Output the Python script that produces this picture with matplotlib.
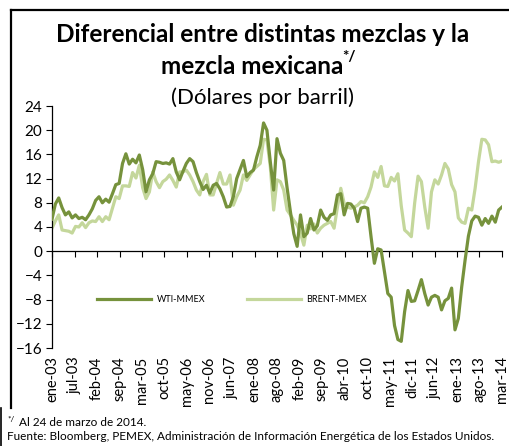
import numpy as np
import matplotlib
matplotlib.use('Agg')
import matplotlib.pyplot as plt

plt.rcParams['font.family'] = ['Lato', 'DejaVu Sans']

# monthly series, ene-03 .. mar-14 (dollars per barrel)
wti_mmex = [
    5.3, 7.8, 8.8, 7.2, 6.0, 6.5, 5.5, 6.0, 5.4, 5.6,
    5.2, 6.0, 7.0, 8.4, 9.0, 8.0, 8.6, 8.1, 9.5, 11.0,
    11.2, 14.5, 16.1, 14.4, 15.2, 14.6, 15.9, 13.5, 9.8, 11.8,
    12.8, 14.8, 14.7, 14.5, 14.6, 14.4, 15.3, 13.1, 11.8, 13.2,
    14.5, 15.3, 14.8, 13.0, 11.5, 10.2, 10.9, 9.6, 10.9, 11.2,
    10.3, 9.0, 7.3, 7.4, 9.0, 12.0, 13.5, 15.0, 12.3, 13.0,
    13.4, 15.6, 17.5, 21.2, 20.0, 14.8, 10.1, 18.6, 16.2, 15.0,
    10.5, 6.5, 2.9, 0.8, 6.0, 2.4, 3.0, 5.4, 3.5, 4.2,
    6.8, 5.6, 5.1, 6.0, 6.2, 9.3, 9.5, 6.0, 7.9, 7.8,
    7.1, 4.9, 7.1, 7.3, 7.1, 2.4, -2.0, 0.4, 0.2, -3.4,
    -7.0, -7.6, -12.3, -14.6, -14.9, -10.0, -6.5, -8.3, -8.2, -6.5,
    -4.7, -7.0, -8.9, -7.6, -7.3, -7.6, -9.7, -8.2, -7.8, -6.1,
    -13.0, -11.1, -5.9, -1.5, 2.5, 5.0, 5.8, 5.6, 4.3, 5.4,
    4.6, 5.8, 4.8, 6.8, 7.3,
]
brent_mmex = [
    3.8, 5.0, 6.0, 3.5, 3.4, 3.3, 3.0, 4.1, 4.0, 4.7,
    3.9, 4.7, 5.0, 4.9, 5.7, 4.9, 5.7, 5.2, 7.1, 9.0,
    8.7, 10.8, 10.8, 10.7, 13.0, 12.1, 14.2, 10.5, 8.7, 9.8,
    13.1, 11.5, 10.5, 11.5, 11.9, 12.6, 11.7, 10.6, 13.1, 13.1,
    13.4, 12.6, 11.5, 10.1, 9.3, 11.5, 12.7, 9.3, 9.3, 11.2,
    13.0, 11.1, 11.1, 12.6, 7.6, 9.0, 10.1, 12.6, 11.7, 12.6,
    13.5, 14.0, 14.5, 18.5, 18.4, 14.0, 6.8, 11.8, 11.5, 10.1,
    6.8, 6.0, 5.1, 4.3, 2.9, 1.0, 4.3, 3.7, 4.5, 3.0,
    3.8, 4.3, 4.6, 4.9, 3.8, 7.3, 10.4, 7.9, 7.3, 7.1,
    7.3, 7.6, 8.2, 8.0, 9.0, 10.6, 13.1, 12.2, 14.0, 10.8,
    10.7, 12.2, 11.6, 12.8, 7.5, 3.5, 3.0, 2.4, 8.0, 12.4,
    11.5, 7.3, 3.8, 9.8, 11.8, 11.1, 12.6, 14.5, 13.6, 11.0,
    9.8, 5.5, 4.8, 4.6, 7.1, 6.8, 10.4, 14.8, 18.5, 18.4,
    17.6, 14.8, 14.9, 14.7, 14.9,
]
tick_labels = ['ene-03', 'jul-03', 'feb-04', 'sep-04', 'mar-05', 'oct-05',
               'may-06', 'nov-06', 'jun-07', 'ene-08', 'ago-08', 'feb-09',
               'sep-09', 'abr-10', 'oct-10', 'may-11', 'dic-11', 'jun-12',
               'ene-13', 'ago-13', 'mar-14']
yticks = list(range(-16, 25, 4))

dark = '#76923C'
light = '#C4D79B'

fig = plt.figure(figsize=(5.10, 4.46), dpi=100)
ax = fig.add_axes([52 / 510, 1 - 348 / 446, (502 - 52) / 510, (348 - 106) / 446])

x = np.arange(len(wti_mmex))
ax.plot(x, wti_mmex, color=dark, lw=2.3, label='WTI-MMEX', zorder=3)
ax.plot(x, brent_mmex, color=light, lw=2.3, label='BRENT-MMEX', zorder=2)

n = len(wti_mmex) - 1
tpos = np.linspace(0, n, len(tick_labels))
ax.set_xlim(0, n)
ax.set_ylim(-16, 24)
ax.set_yticks(yticks)
ax.set_xticks(tpos)
ax.tick_params(axis='y', direction='out', length=4, width=0.8, labelsize=11, pad=3)
ax.tick_params(axis='x', direction='out', length=4, width=0.8, labelbottom=False)
ax.spines['bottom'].set_position(('data', 0))
ax.spines['top'].set_visible(False)
ax.spines['right'].set_visible(False)
for s in ('left', 'bottom'):
    ax.spines[s].set_linewidth(0.9)

sec = ax.secondary_xaxis('bottom')
sec.set_xticks(tpos, tick_labels, rotation=90)
sec.tick_params(length=0, labelsize=10.5, pad=6)
sec.spines['bottom'].set_visible(False)

ax.legend(loc='center', bbox_to_anchor=(0.40, 0.2), ncol=2, frameon=False,
          fontsize=6.5, handlelength=6.0, columnspacing=4.6, handletextpad=0.6)

# titles
fig.text(0.514, 1 - 35 / 446, 'Diferencial entre distintas mezclas y la',
         ha='center', va='center', fontsize=17.5, fontweight='bold')
t2 = fig.text(0.494, 1 - 66 / 446, 'mezcla mexicana', ha='center', va='center',
              fontsize=17.5, fontweight='bold')
fig.canvas.draw()
bb = t2.get_window_extent()
fig.text(bb.x1 / 510 - 0.002, 1 - 57 / 446, '*/', ha='left', va='center',
         fontsize=11, fontweight='bold')
fig.text(0.514, 1 - 98 / 446, '(Dólares por barril)', ha='center', va='center',
         fontsize=16)

# footnotes
fig.text(7 / 510, 1 - 420 / 446, '*/', fontsize=6, va='center')
fig.text(19 / 510, 1 - 423 / 446, 'Al 24 de marzo de 2014.', fontsize=8.5, va='center')
fig.text(7 / 510, 1 - 437 / 446,
         'Fuente: Bloomberg, PEMEX, Administración de Información Energética de los Estados Unidos.',
         fontsize=8.5, va='center')

# frame of the document box
fig.add_artist(plt.Line2D([11 / 510, 11 / 510], [1 - 408 / 446, 1 - 10 / 446], color='black', lw=1.6))
fig.add_artist(plt.Line2D([11 / 510, 1.0], [1 - 10 / 446, 1 - 10 / 446], color='black', lw=1.6))
fig.add_artist(plt.Line2D([1 / 510, 1 / 510], [0, 1 - 408 / 446], color='black', lw=1.2))

fig.savefig('out.png', dpi=100)
